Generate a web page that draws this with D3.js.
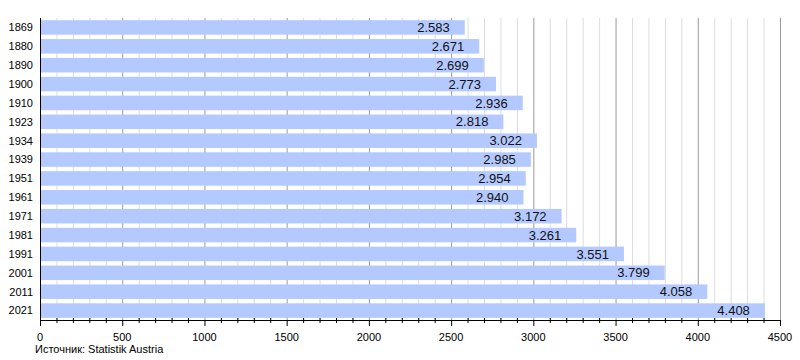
<!DOCTYPE html>
<html><head><meta charset="utf-8">
<script src="https://cdn.jsdelivr.net/npm/d3@7/dist/d3.min.js"></script>
<style>body{margin:0;background:#fff;}svg{display:block;font-family:"Liberation Sans",Arial,sans-serif;}</style>
</head><body><svg id="c" width="800" height="360"></svg>
<script>
const years = ["1869","1880","1890","1900","1910","1923","1934","1939","1951","1961","1971","1981","1991","2001","2011","2021"];
const population = [2583,2671,2699,2773,2936,2818,3022,2985,2954,2940,3172,3261,3551,3799,4058,4408];
const majorTicks = [0,500,1000,1500,2000,2500,3000,3500,4000,4500];
const sourceText = "Источник: Statistik Austria";

const svg = d3.select("#c");
const x = d3.scaleLinear().domain([0,4500]).range([40,780]);
const y = d3.scaleBand().domain(years).range([18,320]).paddingInner(0.23).paddingOuter(0.115);
const minorTicks = d3.range(0,4501,100).filter(v => v % 500 !== 0);
const fmt = v => d3.format(",")(v).replace(",", ".");

// grid
svg.append("g").selectAll("line").data(minorTicks).join("line")
  .attr("x1", d => x(d)+0.5).attr("x2", d => x(d)+0.5).attr("y1", 18).attr("y2", 320)
  .attr("stroke", "#dddddd").attr("stroke-width", 1);
svg.append("g").selectAll("line").data(majorTicks.slice(1)).join("line")
  .attr("x1", d => x(d)+0.5).attr("x2", d => x(d)+0.5).attr("y1", 18).attr("y2", 320)
  .attr("stroke", "#9a9a9a").attr("stroke-width", 1);

// bars
svg.append("g").selectAll("rect").data(years).join("rect")
  .attr("x", x(0)+1).attr("y", d => y(d))
  .attr("width", (d,i) => x(population[i]) - x(0) - 1)
  .attr("height", y.bandwidth())
  .attr("fill", "#b3c9ff");

// value labels
svg.append("g").selectAll("text").data(years).join("text")
  .attr("x", (d,i) => x(population[i]) - 15)
  .attr("y", d => y(d) + y.bandwidth()/2)
  .attr("dy", "0.36em").attr("text-anchor", "end")
  .attr("font-size", 13).attr("fill", "#111")
  .text((d,i) => fmt(population[i]));

// year labels
svg.append("g").selectAll("text").data(years).join("text")
  .attr("x", 33).attr("y", d => y(d) + y.bandwidth()/2)
  .attr("dy", "0.35em").attr("text-anchor", "end")
  .attr("font-size", 11).attr("fill", "#000")
  .text(d => d);

// axes lines
svg.append("line").attr("x1", 40.5).attr("x2", 40.5).attr("y1", 18).attr("y2", 320.5)
  .attr("stroke", "#000");
svg.append("line").attr("x1", 40).attr("x2", 780.5).attr("y1", 320.5).attr("y2", 320.5)
  .attr("stroke", "#000");
svg.append("g").selectAll("line").data(minorTicks).join("line")
  .attr("x1", d => x(d)+0.5).attr("x2", d => x(d)+0.5).attr("y1", 318).attr("y2", 323)
  .attr("stroke", "#000");
svg.append("g").selectAll("line").data(majorTicks).join("line")
  .attr("x1", d => x(d)+0.5).attr("x2", d => x(d)+0.5).attr("y1", 320).attr("y2", 326)
  .attr("stroke", "#000");
svg.append("g").selectAll("text").data(majorTicks).join("text")
  .attr("x", d => x(d)).attr("y", 341).attr("text-anchor", "middle")
  .attr("font-size", 11).attr("fill", "#000")
  .text(d => d);

svg.append("text").attr("x", 35).attr("y", 353).attr("font-size", 11).attr("fill", "#000").text(sourceText);
</script></body></html>
